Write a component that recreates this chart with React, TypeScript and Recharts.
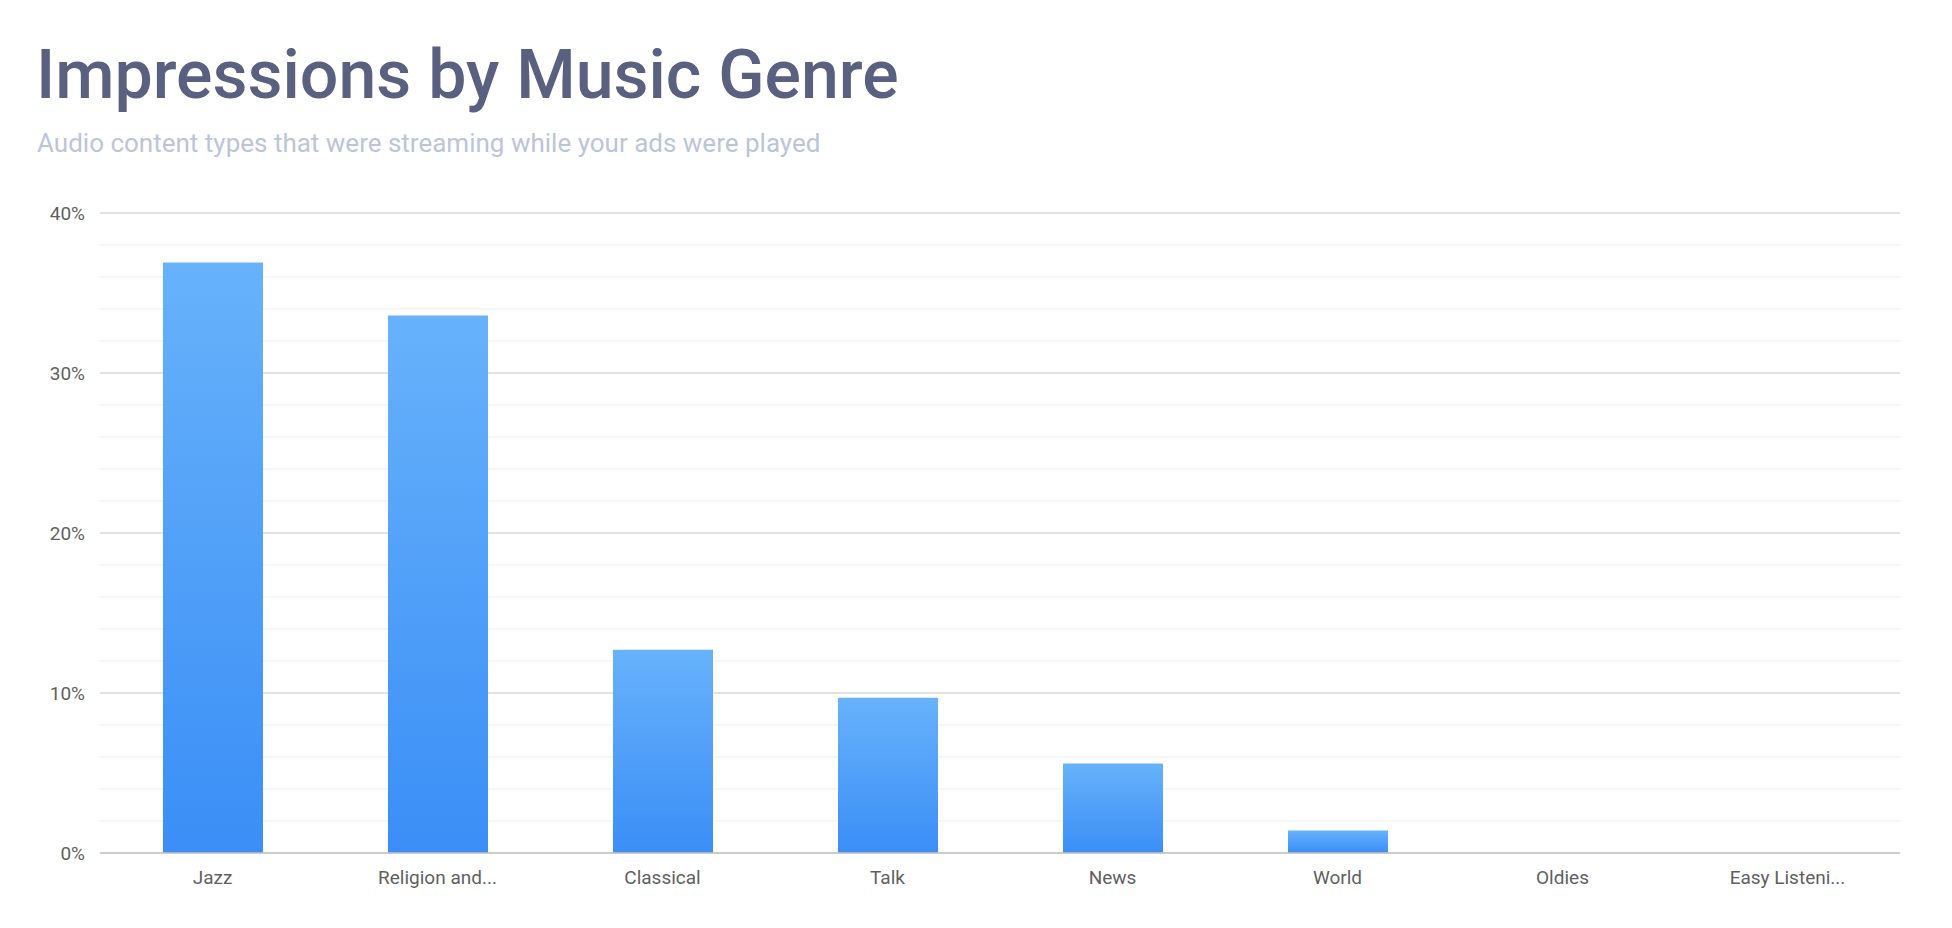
import React from "react";
import { BarChart, Bar, XAxis, YAxis, CartesianGrid } from "recharts";

const genres = ["Jazz", "Religion and...", "Classical", "Talk", "News", "World", "Oldies", "Easy Listeni..."];
const impressions = [36.9, 33.6, 12.7, 9.7, 5.6, 1.4, 0, 0];
const yTicks = [0, 2, 4, 6, 8, 10, 12, 14, 16, 18, 20, 22, 24, 26, 28, 30, 32, 34, 36, 38, 40];
const labeledTicks = [0, 10, 20, 30, 40];

const data = genres.map((g, i) => ({ genre: g, value: impressions[i] }));

const FONT = "Roboto, 'Noto Sans', sans-serif";

const GridLine = (props: any) => {
  const { x1, x2, y1, y2, index } = props;
  const major = index % 5 === 0;
  return (
    <line
      x1={x1}
      x2={x2}
      y1={y1}
      y2={y2}
      stroke={major ? "#c6c6c6" : "#eeeeee"}
      strokeWidth={1.2}
    />
  );
};

export default function App() {
  return (
    <div style={{ position: "absolute", left: 0, top: 0, width: 1952, height: 928, background: "#fff", fontFamily: FONT }}>
      <div
        style={{
          position: "absolute",
          left: 36,
          top: 41,
          fontSize: 68,
          lineHeight: "68px",
          fontWeight: 500,
          color: "#596080",
          whiteSpace: "nowrap",
        }}
      >
        Impressions by Music Genre
      </div>
      <div
        style={{
          position: "absolute",
          left: 37,
          top: 130,
          fontSize: 26,
          lineHeight: "26px",
          fontWeight: 400,
          color: "#bac5da",
          whiteSpace: "nowrap",
        }}
      >
        Audio content types that were streaming while your ads were played
      </div>
      <div style={{ position: "absolute", left: 0, top: 0 }}>
        <BarChart
          width={1952}
          height={928}
          data={data}
          margin={{ top: 213, right: 52, bottom: 15, left: 0 }}
          barCategoryGap={0}
        >
          <defs>
            <linearGradient id="barGrad" x1="0" y1="0" x2="0" y2="1">
              <stop offset="0%" stopColor="#67b2fb" />
              <stop offset="100%" stopColor="#3a8ef6" />
            </linearGradient>
          </defs>
          <CartesianGrid vertical={false} horizontal={(p: any) => <GridLine key={p.key} {...p} />} />
          <XAxis
            dataKey="genre"
            tickLine={false}
            axisLine={{ stroke: "#c4c4c4", strokeWidth: 1.5 }}
            tickMargin={12}
            height={60}
            interval={0}
            tick={{ fill: "#5f5f5f", fontSize: 19, fontFamily: FONT }}
          />
          <YAxis
            width={100}
            domain={[0, 40]}
            ticks={yTicks}
            interval={0}
            tickLine={false}
            axisLine={false}
            tickMargin={9}
            tickFormatter={(v: number) => (labeledTicks.includes(v) ? `${v}%` : "")}
            tick={{ fill: "#5f5f5f", fontSize: 19, fontFamily: FONT }}
          />
          <Bar dataKey="value" fill="url(#barGrad)" barSize={100} isAnimationActive={false} />
        </BarChart>
      </div>
    </div>
  );
}
